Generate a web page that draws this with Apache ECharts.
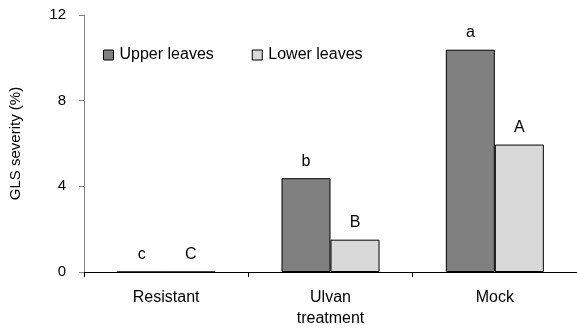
<!DOCTYPE html>
<html><head><meta charset="utf-8">
<script src="https://cdn.jsdelivr.net/npm/echarts@6/dist/echarts.min.js"></script>
<style>html,body{margin:0;padding:0;background:#fff}#c{width:577px;height:329px}</style>
</head><body><div id="c"></div>
<script>
var categories = ['Resistant', 'Ulvan\ntreatment', 'Mock'];
var upperValues = [0, 4.38, 10.38];
var lowerValues = [0, 1.51, 5.95];
var upperLetters = ['c', 'b', 'a'];
var lowerLetters = ['C', 'B', 'A'];
var seriesNames = ['Upper leaves', 'Lower leaves'];
var yTitle = 'GLS severity (%)';

var font = 'Liberation Sans, Arial, sans-serif';
function mkData(vals, letters) {
  return vals.map(function (v, i) { return { value: v, label: { formatter: letters[i] } }; });
}
var chart = echarts.init(document.getElementById('c'), null, { renderer: 'canvas' });
chart.setOption({
  animation: false,
  backgroundColor: '#fff',
  textStyle: { fontFamily: font },
  grid: { left: 78, top: 15, width: 502, height: 260, containLabel: false },
  legend: {
    left: 103, top: 47, padding: 0, itemWidth: 10, itemHeight: 10, itemGap: 38, icon: 'rect',
    itemStyle: { borderWidth: 1, borderColor: '#000' },
    textStyle: { fontFamily: font, fontSize: 16, color: '#000', padding: [0, 0, 0, 1] },
    data: seriesNames
  },
  xAxis: {
    type: 'category', data: categories,
    axisLine: { lineStyle: { color: '#000', width: 1 } },
    axisTick: { show: true, length: 5, lineStyle: { color: '#000' }, alignWithLabel: false },
    axisLabel: { fontFamily: font, fontSize: 16, color: '#000', margin: 15, lineHeight: 21 },
    splitLine: { show: false }
  },
  yAxis: {
    type: 'value', min: 0, max: 12, interval: 4,
    name: yTitle, nameLocation: 'middle', nameGap: 61, nameRotate: 90,
    nameTextStyle: { fontFamily: font, fontSize: 15, color: '#000' },
    axisLine: { show: true, lineStyle: { color: '#808080', width: 1 } },
    axisTick: { show: true, length: 5, lineStyle: { color: '#808080' } },
    axisLabel: { fontFamily: font, fontSize: 15, color: '#000', margin: 18 },
    splitLine: { show: false }
  },
  series: [
    {
      name: seriesNames[0], type: 'bar', data: mkData(upperValues, upperLetters),
      barWidth: 49, barGap: '0%',
      itemStyle: { color: '#808080', borderColor: '#000', borderWidth: 1 },
      label: { show: true, position: 'top', distance: 9, fontFamily: font, fontSize: 16, color: '#000' }
    },
    {
      name: seriesNames[1], type: 'bar', data: mkData(lowerValues, lowerLetters),
      barWidth: 49, barGap: '0%',
      itemStyle: { color: '#d9d9d9', borderColor: '#000', borderWidth: 1 },
      label: { show: true, position: 'top', distance: 9, fontFamily: font, fontSize: 16, color: '#000' }
    }
  ]
});
</script></body></html>
